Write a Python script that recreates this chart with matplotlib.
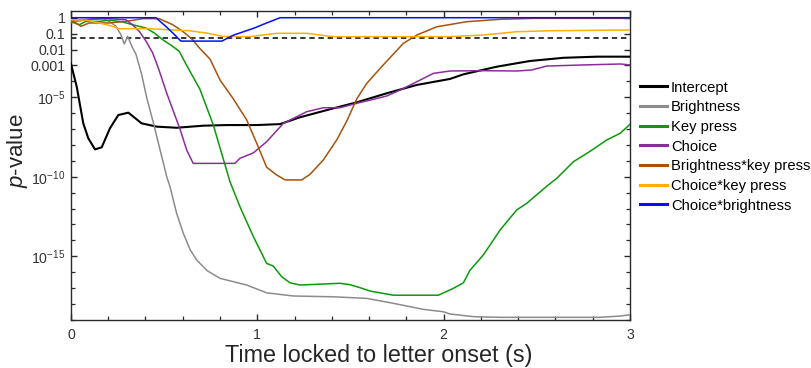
import numpy as np
import matplotlib
matplotlib.use("Agg")
import matplotlib.pyplot as plt
from matplotlib.ticker import FixedLocator, FixedFormatter

plt.rcParams['font.family'] = ['Liberation Sans', 'DejaVu Sans']
plt.rcParams['mathtext.fontset'] = 'custom'
plt.rcParams['mathtext.rm'] = 'Liberation Sans'
plt.rcParams['mathtext.it'] = 'Liberation Sans:italic'
plt.rcParams['mathtext.bf'] = 'Liberation Sans:bold'

# ---- data: time (s) and log10(p) ----
intercept_t = [0, 0.031, 0.066, 0.093, 0.129, 0.165, 0.209, 0.254, 0.308, 0.379, 0.46, 0.567,
               0.71, 0.836, 0.997, 1.122, 1.229, 1.408, 1.534, 1.695, 1.855, 2.034, 2.106,
               2.285, 2.464, 2.643, 2.822, 3.0]
intercept_lp = [-2.9, -4.34, -6.64, -7.58, -8.28, -8.15, -6.96, -6.12, -5.97, -6.64, -6.85, -6.92,
                -6.79, -6.75, -6.75, -6.69, -6.26, -5.70, -5.32, -4.75, -4.23, -3.85, -3.56,
                -3.08, -2.72, -2.52, -2.45, -2.45]

bright_t = [0, 0.05, 0.1, 0.17, 0.206, 0.242, 0.268, 0.286, 0.304, 0.331, 0.349, 0.38, 0.406,
            0.442, 0.478, 0.514, 0.531, 0.567, 0.603, 0.64, 0.675, 0.73, 0.8, 0.943, 1.05,
            1.193, 1.408, 1.587, 1.73, 1.891, 1.998, 2.034, 2.16, 2.303, 2.84, 2.947, 3.0]
bright_lp = [-0.3, -0.2, -0.1, -0.05, -0.23, -0.54, -1.07, -1.65, -1.17, -1.9, -2.3, -3.6, -5.0,
             -6.6, -8.3, -10.0, -10.6, -12.3, -13.56, -14.6, -15.24, -15.9, -16.39, -16.81,
             -17.3, -17.5, -17.55, -17.65, -17.96, -18.34, -18.49, -18.63, -18.8, -18.84,
             -18.84, -18.76, -18.68]

key_t = [0, 0.012, 0.045, 0.08, 0.152, 0.209, 0.278, 0.331, 0.403, 0.447, 0.492, 0.54, 0.581,
         0.621, 0.692, 0.764, 0.853, 0.907, 0.979, 1.05, 1.086, 1.131, 1.176, 1.229, 1.444,
         1.498, 1.552, 1.605, 1.73, 1.972, 2.052, 2.106, 2.142, 2.213, 2.303, 2.392, 2.446,
         2.553, 2.607, 2.696, 2.786, 2.875, 2.947, 3.0]
key_lp = [-0.3, -0.3, -0.44, -0.23, -0.23, -0.15, -0.27, -0.44, -0.65, -0.96, -1.38, -1.75,
          -2.11, -3.0, -4.5, -6.75, -10.3, -11.89, -13.77, -15.45, -15.62, -16.29, -16.67,
          -16.81, -16.7, -16.79, -16.98, -17.19, -17.45, -17.45, -17.02, -16.67, -15.87,
          -14.92, -13.35, -12.09, -11.67, -10.6, -10.1, -9.06, -8.4, -7.69, -7.27, -6.7]

choice_t = [0, 0.1, 0.2, 0.25, 0.295, 0.33, 0.367, 0.403, 0.438, 0.47, 0.514, 0.585, 0.621,
            0.656, 0.88, 0.907, 0.979, 1.05, 1.14, 1.211, 1.265, 1.354, 1.444, 1.534, 1.623,
            1.695, 1.766, 1.838, 1.945, 2.034, 2.213, 2.392, 2.471, 2.553, 2.75, 2.95, 3.0]
choice_lp = [-0.15, -0.1, -0.05, -0.1, -0.13, -0.44, -0.86, -1.48, -2.2, -3.2, -4.75, -7.0,
             -8.32, -9.16, -9.16, -8.84, -8.5, -7.8, -6.64, -6.23, -5.91, -5.66, -5.66, -5.38,
             -5.13, -4.92, -4.55, -4.13, -3.5, -3.35, -3.33, -3.35, -3.29, -3.04, -2.97, -2.91,
             -2.97]

bk_t = [0, 0.012, 0.054, 0.098, 0.2, 0.295, 0.385, 0.474, 0.546, 0.6, 0.653, 0.689,
        0.746, 0.8, 0.871, 0.943, 0.997, 1.05, 1.104, 1.149, 1.238, 1.283, 1.354, 1.426, 1.48,
        1.534, 1.587, 1.676, 1.784, 1.856, 1.963, 2.124, 2.303, 2.482, 3.0]
bk_lp = [-0.25, -0.23, -0.54, -0.33, -0.33, -0.23, -0.06, -0.06, -0.44, -0.86, -1.38, -1.9,
         -2.6, -3.92, -5.1, -6.43, -7.9, -9.4, -9.89, -10.2, -10.2, -9.85, -8.95, -7.69, -6.5,
         -5.1, -4.13, -2.97, -1.61, -1.09, -0.57, -0.25, -0.1, -0.04, -0.04]

ck_t = [0, 0.08, 0.152, 0.224, 0.259, 0.42, 0.51, 0.635, 0.725, 0.814, 0.871, 0.96, 1.104,
        1.265, 1.408, 2.034, 2.213, 2.392, 2.571, 3.0]
ck_lp = [-0.13, -0.15, -0.33, -0.54, -0.69, -0.69, -0.75, -0.82, -0.96, -1.17, -1.19, -1.19,
         -0.98, -0.98, -1.19, -1.19, -1.09, -0.88, -0.82, -0.77]

cb_t = [0, 0.456, 0.514, 0.55, 0.59, 0.81, 0.871, 0.979, 1.05, 1.122, 3.0]
cb_lp = [0, 0, -0.6, -1.0, -1.47, -1.47, -1.1, -0.67, -0.33, 0, 0]

labels = ["Intercept", "Brightness", "Key press", "Choice", "Brightness*key press",
          "Choice*key press", "Choice*brightness"]
colors = ["#000000", "#8c8c8c", "#0a9a0a", "#8a2f9a", "#a8520c", "#ffb000", "#0010ff"]
series = [(intercept_t, intercept_lp), (bright_t, bright_lp), (key_t, key_lp),
          (choice_t, choice_lp), (bk_t, bk_lp), (ck_t, ck_lp), (cb_t, cb_lp)]

alpha_level = 0.05
ytick_vals = [1, 0.1, 0.01, 0.001, 1e-5, 1e-10, 1e-15]
ytick_labels = ["1", "0.1", "0.01", "0.001", r"$\mathrm{10^{-5}}$", r"$\mathrm{10^{-10}}$",
                r"$\mathrm{10^{-15}}$"]
xtick_vals = [0, 1, 2, 3]

fig = plt.figure(figsize=(8.11, 3.68), dpi=100)
ax = fig.add_axes([0.0875, 0.1304, 0.6893, 0.8396])

handles = []
for (t, lp), lab, col in zip(series, labels, colors):
    lw = 1.5 if lab == "Intercept" else 1.1
    ax.plot(t, 10.0 ** np.array(lp), color=col, lw=lw, zorder=3)
    handles.append(plt.Line2D([], [], color=col, lw=2.2, label=lab))

ax.axhline(alpha_level, color="black", lw=1.1, ls=(0, (3.5, 2.5)), zorder=2)

ax.set_yscale("log")
ax.set_xlim(0, 3)
ax.set_ylim(10 ** -19.01, 10 ** 0.42)

ax.yaxis.set_major_locator(FixedLocator(ytick_vals))
ax.yaxis.set_major_formatter(FixedFormatter(ytick_labels))
minor = [10.0 ** k for k in range(-19, 1) if 10.0 ** k not in ytick_vals]
ax.yaxis.set_minor_locator(FixedLocator(minor))
ax.yaxis.set_minor_formatter(FixedFormatter([""] * len(minor)))

ax.xaxis.set_major_locator(FixedLocator(xtick_vals))
ax.xaxis.set_minor_locator(FixedLocator(np.arange(0.2, 3.0, 0.2)))

spine_col = "#2a2a2a"
for s in ax.spines.values():
    s.set_color(spine_col)
    s.set_linewidth(1.0)
ax.tick_params(which="both", direction="in", top=True, right=True, color=spine_col,
               labelcolor="#333333", labelsize=10.2)
ax.tick_params(which="major", length=4.5, width=1.0)
ax.tick_params(which="minor", length=2.9, width=0.9)
ax.tick_params(axis="x", pad=6)
ax.tick_params(axis="y", pad=4)

ax.set_xlabel("Time locked to letter onset (s)", fontsize=16.8, color="#262626")
ax.xaxis.set_label_coords(0.551, -0.136, transform=ax.transAxes)
ax.xaxis.label.set_va("baseline")
ax.set_ylabel(r"$p$-value", fontsize=16, color="#262626")
ax.yaxis.set_label_coords(-0.096, 0.547, transform=ax.transAxes)
ax.yaxis.label.set_va("center")

fig.legend(handles=handles, loc="upper left", bbox_to_anchor=(0.789, 0.781),
           frameon=False, fontsize=10.6, handlelength=1.85, handletextpad=0.25,
           labelspacing=0.385, borderpad=0, borderaxespad=0)

fig.savefig("out.png", dpi=100)
